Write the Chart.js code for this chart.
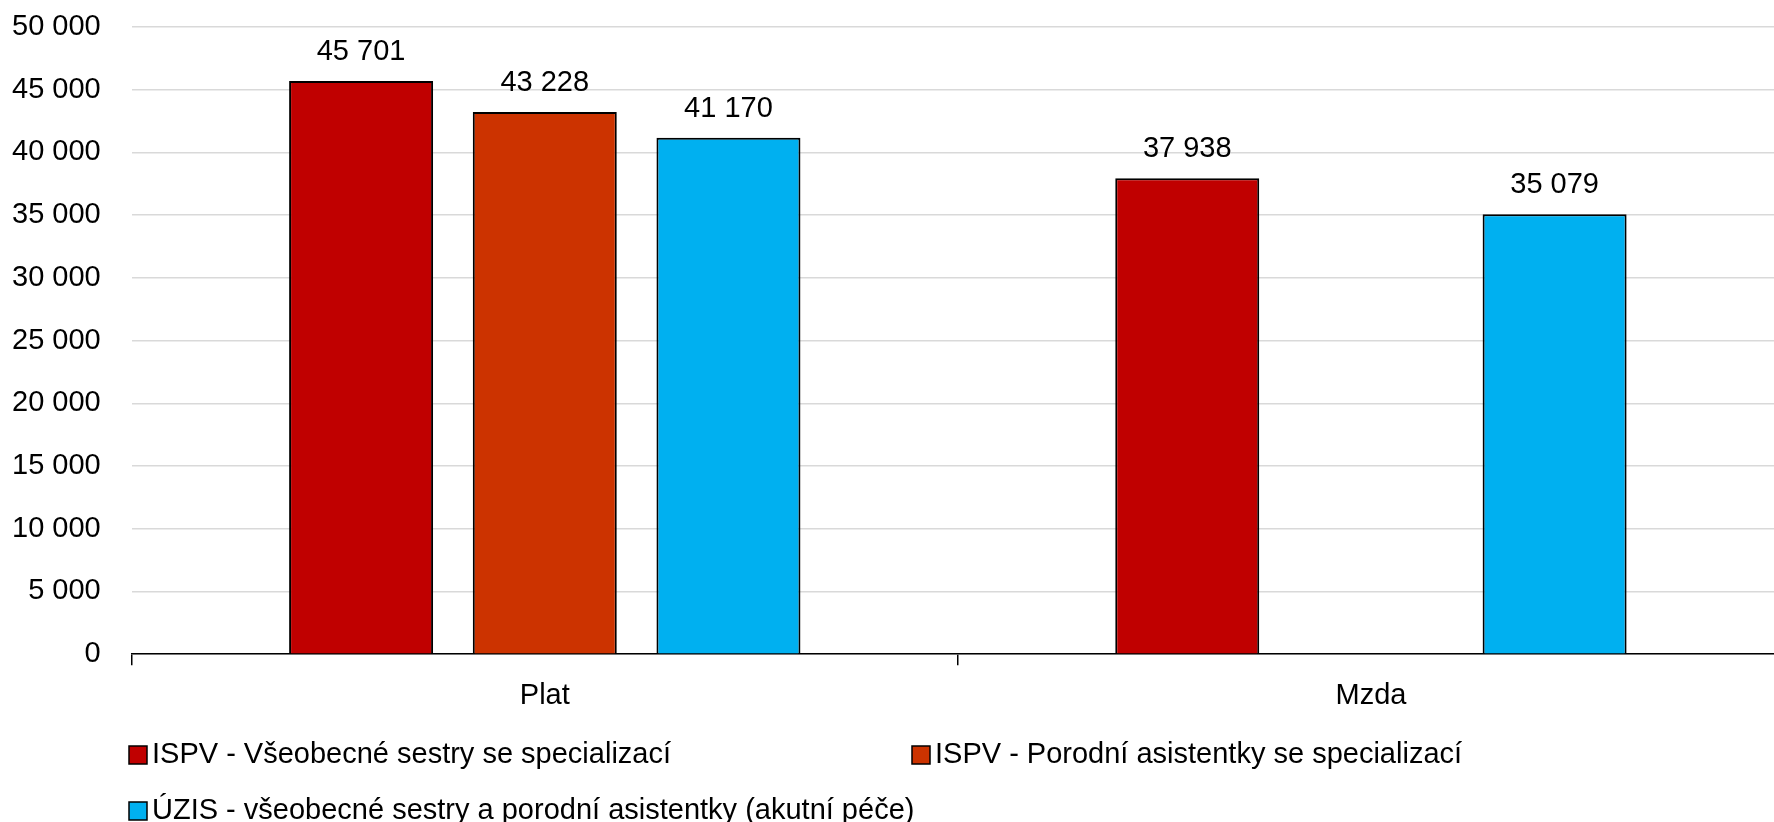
<!DOCTYPE html>
<html>
<head>
<meta charset="utf-8">
<script src="https://cdn.jsdelivr.net/npm/chart.js@4"></script>
<style>
  html, body { margin: 0; padding: 0; background: #fff; overflow: hidden; }
  /* plocha grafu v originale pokracuje kousek za pravy okraj obrazku */
  #obal { width: 1784px; height: 822px; }
</style>
</head>
<body>
<div id="obal"><canvas id="graf"></canvas></div>
<script>
/* Data */

const kategorie = ["Plat", "Mzda"];
const nazvyRad = [
  "ISPV - Všeobecné sestry se specializací",
  "ISPV - Porodní asistentky se specializací",
  "ÚZIS - všeobecné sestry a porodní asistentky (akutní péče)"
];
const ispvSestry = [45701, 37938];
const ispvAsistentky = [43228, null];
const uzisSestry = [41170, 35079];
const barvy = ["#C00000", "#CC3300", "#00B0F0"];

const PISMO = "'Liberation Sans', Arial, sans-serif";
const VELIKOST = 29;

function formatCislo(v) {
  return String(Math.round(v)).replace(/\B(?=(\d{3})+(?!\d))/g, " ");
}

/* Popisky hodnot nad sloupci */
const popiskyPlugin = {
  id: "popisky",
  afterDatasetsDraw(chart) {
    const ctx = chart.ctx;
    ctx.save();
    ctx.font = VELIKOST + "px " + PISMO;
    ctx.fillStyle = "#000";
    ctx.textAlign = "center";
    ctx.textBaseline = "middle";
    chart.data.datasets.forEach((ds, i) => {
      chart.getDatasetMeta(i).data.forEach((bar, j) => {
        const v = ds.data[j];
        if (v === null || v === undefined) return;
        ctx.fillText(formatCislo(v), bar.x, bar.y - 29);
      });
    });
    ctx.restore();
  }
};

/* Legenda ve dvou sloupcich jako v Excelu */
const legendaPlugin = {
  id: "legenda",
  afterDraw(chart) {
    const ctx = chart.ctx;
    const vlevo = 129;
    const sirkaSloupce = 783;
    const radky = [chart.height - 67, chart.height - 11];
    ctx.save();
    ctx.font = VELIKOST + "px " + PISMO;
    ctx.textBaseline = "middle";
    ctx.textAlign = "left";
    chart.data.datasets.forEach((ds, i) => {
      const x = vlevo + (i % 2) * sirkaSloupce;
      const y = radky[Math.floor(i / 2)];
      ctx.fillStyle = ds.backgroundColor;
      ctx.fillRect(x, y - 9, 18, 18);
      ctx.strokeStyle = "#000";
      ctx.lineWidth = 1.5;
      ctx.strokeRect(x, y - 9, 18, 18);
      ctx.fillStyle = "#000";
      ctx.fillText(ds.label, x + 23, y);
    });
    ctx.restore();
  }
};

const data = {
  labels: kategorie,
  datasets: [ispvSestry, ispvAsistentky, uzisSestry].map((hodnoty, i) => ({
    label: nazvyRad[i],
    data: hodnoty,
    backgroundColor: barvy[i],
    borderColor: "#000",
    borderWidth: 2,
    categoryPercentage: 0.667,
    barPercentage: 0.784
  }))
};

const config = {
  type: "bar",
  data: data,
  options: {
    responsive: true,
    maintainAspectRatio: false,
    animation: false,
    layout: { padding: { top: 27, left: 12, right: 0, bottom: 96 } },
    plugins: {
      legend: { display: false },
      tooltip: { enabled: false }
    },
    scales: {
      x: {
        grid: {
          drawOnChartArea: false,
          color: "#000",
          tickLength: 11,
          lineWidth: 1.5
        },
        border: { color: "#000", width: 1.5 },
        ticks: {
          color: "#000",
          font: { family: PISMO, size: VELIKOST },
          padding: 13
        }
      },
      y: {
        min: 0,
        max: 50000,
        grid: {
          color: "#d9d9d9",
          lineWidth: 1.5,
          drawTicks: true,
          tickLength: 31,
          tickColor: "rgba(0,0,0,0)"
        },
        border: { display: false },
        ticks: {
          stepSize: 5000,
          color: "#000",
          font: { family: PISMO, size: VELIKOST },
          padding: 0,
          callback: (v) => formatCislo(v)
        }
      }
    }
  },
  plugins: [popiskyPlugin, legendaPlugin]
};

const graf = new Chart(document.getElementById("graf"), config);
</script>
</body>
</html>
